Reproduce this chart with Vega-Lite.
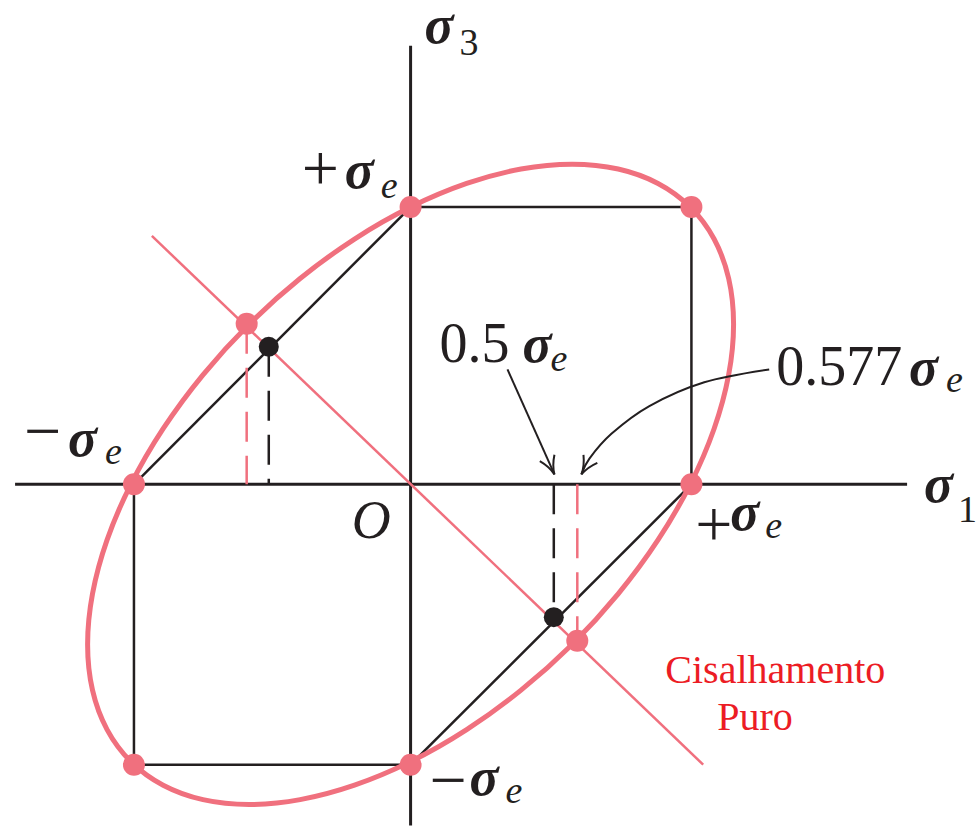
{
  "$schema": "https://vega.github.io/schema/vega-lite/v6.json",
  "width": 977,
  "height": 827,
  "autosize": {"type": "fit", "contains": "padding"},
  "padding": 0,
  "background": "white",
  "config": {"view": {"stroke": null}},
  "datasets": {
    "axes": [
      {"x": -1.414, "y": 0, "x2": 1.775, "y2": 0},
      {"x": 0, "y": 1.582, "x2": 0, "y2": -1.23}
    ],
    "hex": [
      {"x": 0, "y": 1, "x2": 1.004, "y2": 1},
      {"x": 1.004, "y": 1, "x2": 1.004, "y2": 0},
      {"x": 1.004, "y": 0, "x2": 0, "y2": -1.011},
      {"x": 0, "y": -1.011, "x2": -0.989, "y2": -1.011},
      {"x": -0.989, "y": -1.011, "x2": -0.989, "y2": 0},
      {"x": -0.989, "y": 0, "x2": 0, "y2": 1}
    ],
    "dashBlack": [
      {"x": -0.507, "y": 0.496, "x2": -0.507, "y2": 0},
      {"x": 0.512, "y": 0, "x2": 0.512, "y2": -0.479}
    ],
    "dashRed": [
      {"x": -0.586, "y": 0.579, "x2": -0.586, "y2": 0},
      {"x": 0.596, "y": 0, "x2": 0.596, "y2": -0.564}
    ],
    "shear": [
      {"x": -0.925, "y": 0.896, "x2": 1.046, "y2": -1.011}
    ],
    "ellipse": [
      {"i": 0, "x": 1, "y": 1},
      {"i": 1, "x": 0.8846, "y": 1.0851},
      {"i": 2, "x": 0.7422, "y": 1.1372},
      {"i": 3, "x": 0.5774, "y": 1.1547},
      {"i": 4, "x": 0.3949, "y": 1.1372},
      {"i": 5, "x": 0.2005, "y": 1.0851},
      {"i": 6, "x": 0, "y": 1},
      {"i": 7, "x": -0.2005, "y": 0.8846},
      {"i": 8, "x": -0.3949, "y": 0.7422},
      {"i": 9, "x": -0.5774, "y": 0.5774},
      {"i": 10, "x": -0.7422, "y": 0.3949},
      {"i": 11, "x": -0.8846, "y": 0.2005},
      {"i": 12, "x": -1, "y": 0},
      {"i": 13, "x": -1.0851, "y": -0.2005},
      {"i": 14, "x": -1.1372, "y": -0.3949},
      {"i": 15, "x": -1.1547, "y": -0.5774},
      {"i": 16, "x": -1.1372, "y": -0.7422},
      {"i": 17, "x": -1.0851, "y": -0.8846},
      {"i": 18, "x": -1, "y": -1},
      {"i": 19, "x": -0.8846, "y": -1.0851},
      {"i": 20, "x": -0.7422, "y": -1.1372},
      {"i": 21, "x": -0.5774, "y": -1.1547},
      {"i": 22, "x": -0.3949, "y": -1.1372},
      {"i": 23, "x": -0.2005, "y": -1.0851},
      {"i": 24, "x": 0, "y": -1},
      {"i": 25, "x": 0.2005, "y": -0.8846},
      {"i": 26, "x": 0.3949, "y": -0.7422},
      {"i": 27, "x": 0.5774, "y": -0.5774},
      {"i": 28, "x": 0.7422, "y": -0.3949},
      {"i": 29, "x": 0.8846, "y": -0.2005},
      {"i": 30, "x": 1, "y": 0},
      {"i": 31, "x": 1.0851, "y": 0.2005},
      {"i": 32, "x": 1.1372, "y": 0.3949},
      {"i": 33, "x": 1.1547, "y": 0.5774},
      {"i": 34, "x": 1.1372, "y": 0.7422},
      {"i": 35, "x": 1.0851, "y": 0.8846}
    ],
    "redDots": [
      {"x": 0, "y": 1},
      {"x": 1.004, "y": 1},
      {"x": 1.004, "y": 0},
      {"x": 0, "y": -1.011},
      {"x": -0.989, "y": -1.011},
      {"x": -0.989, "y": 0},
      {"x": -0.586, "y": 0.579},
      {"x": 0.596, "y": -0.564}
    ],
    "blackDots": [
      {"x": -0.507, "y": 0.496},
      {"x": 0.512, "y": -0.479}
    ],
    "arrows": [
      {"a": 1, "i": 0, "x": 0.3464, "y": 0.4143},
      {"a": 1, "i": 1, "x": 0.5143, "y": 0.0357},
      {"a": 2, "i": 0, "x": 1.2821, "y": 0.4143},
      {"a": 2, "i": 1, "x": 1.05, "y": 0.3679},
      {"a": 2, "i": 2, "x": 0.8536, "y": 0.2821},
      {"a": 2, "i": 3, "x": 0.7179, "y": 0.1821},
      {"a": 2, "i": 4, "x": 0.6393, "y": 0.0929},
      {"a": 2, "i": 5, "x": 0.6107, "y": 0.0357}
    ],
    "tip1": [{"x": 0.5143, "y": 0.0357}],
    "tip2": [{"x": 0.6107, "y": 0.0357}],
    "signs": [
      {"t": "+", "x": -0.3893, "y": 1.0607},
      {"t": "\u2212", "x": -1.3821, "y": 0.1143},
      {"t": "+", "x": 1.0179, "y": -0.2214},
      {"t": "\u2212", "x": 0.0679, "y": -1.1464}
    ],
    "numbers": [
      {"t": "0.5", "x": 0.1036, "y": 0.4429},
      {"t": "0.577", "x": 1.3071, "y": 0.3571}
    ],
    "subNum": [
      {"t": "3", "x": 0.175, "y": 1.55},
      {"t": "1", "x": 1.9571, "y": -0.1357}
    ],
    "sigma": [
      {"t": "\u03c3", "x": 0.05, "y": 1.59},
      {"t": "\u03c3", "x": 1.8357, "y": -0.0643},
      {"t": "\u03c3", "x": -0.2357, "y": 1.0679},
      {"t": "\u03c3", "x": -1.225, "y": 0.1036},
      {"t": "\u03c3", "x": 1.1429, "y": -0.1643},
      {"t": "\u03c3", "x": 0.2107, "y": -1.1214},
      {"t": "\u03c3", "x": 0.4, "y": 0.4429},
      {"t": "\u03c3", "x": 1.7821, "y": 0.3571}
    ],
    "origin": [
      {"t": "O", "x": -0.2107, "y": -0.1929}
    ],
    "subE": [
      {"t": "e", "x": -0.1071, "y": 1.0321},
      {"t": "e", "x": -1.0929, "y": 0.075},
      {"t": "e", "x": 1.2679, "y": -0.1929},
      {"t": "e", "x": 0.3393, "y": -1.15},
      {"t": "e", "x": 0.5, "y": 0.4071},
      {"t": "e", "x": 1.9143, "y": 0.3321}
    ],
    "redText": [
      {"t": "Cisalhamento", "x": 0.9107, "y": -0.7179},
      {"t": "Puro", "x": 1.0964, "y": -0.8857}
    ]
  },
  "encoding": {
    "x": {"field": "x", "type": "quantitative", "axis": null, "scale": {"domain": [-1.4679, 2.0214], "nice": false, "zero": false}},
    "y": {"field": "y", "type": "quantitative", "axis": null, "scale": {"domain": [-1.225, 1.7286], "nice": false, "zero": false}}
  },
  "layer": [
    {"data": {"name": "axes"}, "mark": {"type": "rule", "color": "#231f20", "strokeWidth": 3}, "encoding": {"x2": {"field": "x2"}, "y2": {"field": "y2"}}},
    {"data": {"name": "hex"}, "mark": {"type": "rule", "color": "#231f20", "strokeWidth": 2.5}, "encoding": {"x2": {"field": "x2"}, "y2": {"field": "y2"}}},
    {"data": {"name": "dashBlack"}, "mark": {"type": "rule", "color": "#231f20", "strokeWidth": 2.5, "strokeDash": [30, 14]}, "encoding": {"x2": {"field": "x2"}, "y2": {"field": "y2"}}},
    {"data": {"name": "dashRed"}, "mark": {"type": "rule", "color": "#f0707e", "strokeWidth": 2.5, "strokeDash": [30, 14]}, "encoding": {"x2": {"field": "x2"}, "y2": {"field": "y2"}}},
    {"data": {"name": "shear"}, "mark": {"type": "rule", "color": "#f0707e", "strokeWidth": 2.5}, "encoding": {"x2": {"field": "x2"}, "y2": {"field": "y2"}}},
    {"data": {"name": "ellipse"}, "mark": {"type": "line", "interpolate": "cardinal-closed", "color": "#f0707e", "strokeWidth": 5}, "encoding": {"order": {"field": "i", "type": "quantitative"}}},
    {"data": {"name": "redDots"}, "mark": {"type": "point", "shape": "circle", "filled": true, "opacity": 1, "size": 484, "color": "#f0707e", "strokeWidth": 0}},
    {"data": {"name": "blackDots"}, "mark": {"type": "point", "shape": "circle", "filled": true, "opacity": 1, "size": 400, "color": "#231f20", "strokeWidth": 0}},
    {"data": {"name": "arrows"}, "mark": {"type": "line", "interpolate": "cardinal", "color": "#231f20", "strokeWidth": 2}, "encoding": {"detail": {"field": "a", "type": "nominal"}, "order": {"field": "i", "type": "quantitative"}}},
    {"data": {"name": "tip1"}, "mark": {"type": "point", "shape": "M-0.8,-1.8 Q-0.15,-0.9 0,0 Q0.15,-0.9 0.8,-1.8", "filled": false, "opacity": 1, "size": 400, "color": "#231f20", "strokeWidth": 2, "angle": -24}},
    {"data": {"name": "tip2"}, "mark": {"type": "point", "shape": "M-0.8,-1.8 Q-0.15,-0.9 0,0 Q0.15,-0.9 0.8,-1.8", "filled": false, "opacity": 1, "size": 400, "color": "#231f20", "strokeWidth": 2, "angle": 30}},
    {"data": {"name": "signs"}, "mark": {"type": "text", "font": "Liberation Serif", "fontSize": 66, "align": "left", "baseline": "alphabetic", "color": "#231f20"}, "encoding": {"text": {"field": "t"}}},
    {"data": {"name": "numbers"}, "mark": {"type": "text", "font": "Liberation Serif", "fontSize": 56, "align": "left", "baseline": "alphabetic", "color": "#231f20"}, "encoding": {"text": {"field": "t"}}},
    {"data": {"name": "subNum"}, "mark": {"type": "text", "font": "Liberation Serif", "fontSize": 38, "align": "left", "baseline": "alphabetic", "color": "#231f20"}, "encoding": {"text": {"field": "t"}}},
    {"data": {"name": "sigma"}, "mark": {"type": "text", "font": "Liberation Serif", "fontStyle": "italic", "fontWeight": "bold", "fontSize": 54, "align": "left", "baseline": "alphabetic", "color": "#231f20"}, "encoding": {"text": {"field": "t"}}},
    {"data": {"name": "origin"}, "mark": {"type": "text", "font": "Liberation Serif", "fontStyle": "italic", "fontSize": 54, "align": "left", "baseline": "alphabetic", "color": "#231f20"}, "encoding": {"text": {"field": "t"}}},
    {"data": {"name": "subE"}, "mark": {"type": "text", "font": "Liberation Serif", "fontStyle": "italic", "fontSize": 38, "align": "left", "baseline": "alphabetic", "color": "#231f20"}, "encoding": {"text": {"field": "t"}}},
    {"data": {"name": "redText"}, "mark": {"type": "text", "font": "Liberation Serif", "fontSize": 40, "align": "left", "baseline": "alphabetic", "color": "#ec1c24"}, "encoding": {"text": {"field": "t"}}}
  ]
}
